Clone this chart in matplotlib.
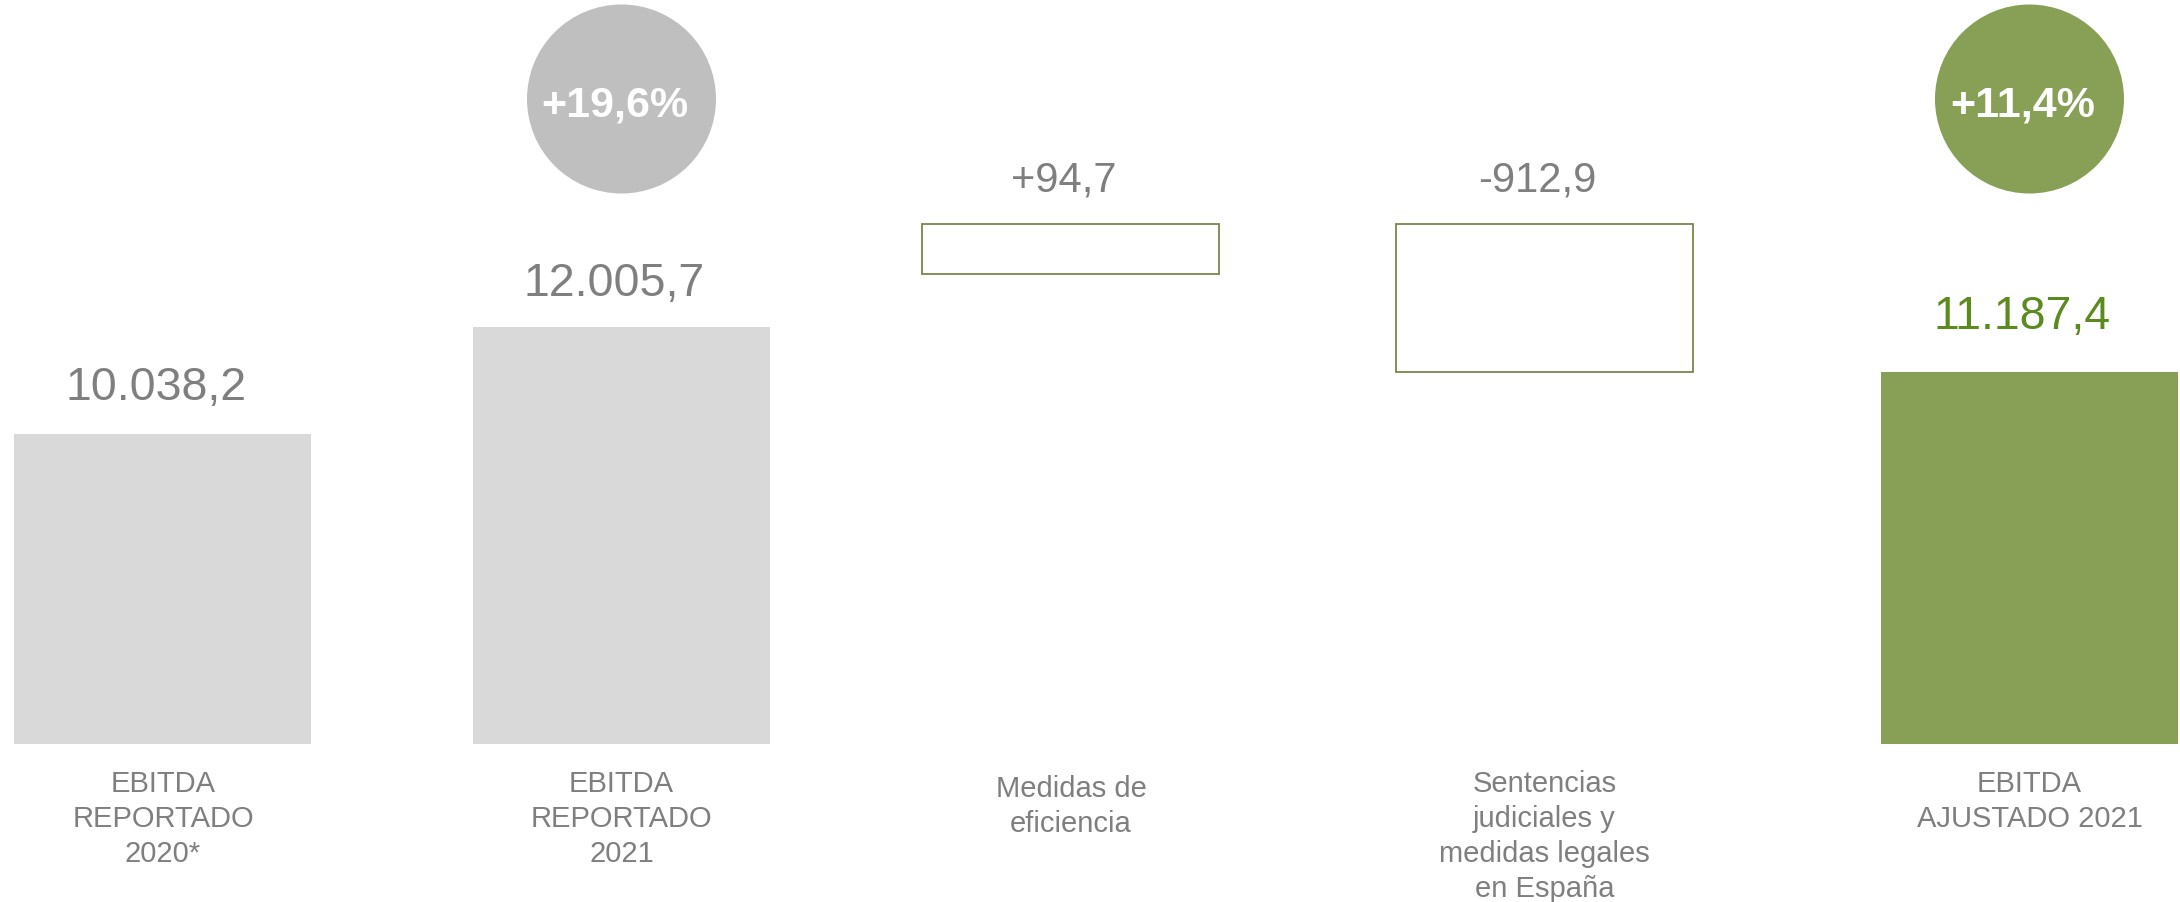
import matplotlib
matplotlib.use("Agg")
import matplotlib.pyplot as plt
from matplotlib.transforms import blended_transform_factory

plt.rcParams['font.family'] = ['Liberation Sans', 'DejaVu Sans']

# ---------------- data ----------------
categories = ["EBITDA\nREPORTADO\n2020*", "EBITDA\nREPORTADO\n2021",
              "Medidas de\neficiencia",
              "Sentencias\njudiciales y\nmedidas legales\nen España",
              "EBITDA\nAJUSTADO 2021"]
total_values = [10038.2, 12005.7, 11187.4]          # bars 1, 2, 5
total_labels = ["10.038,2", "12.005,7", "11.187,4"]
step_values = [94.7, -912.9]                         # bars 3, 4
step_labels = ["+94,7", "-912,9"]
# the step boxes are drawn schematically in the reference (not to scale);
# extents in value units
step_box_low = [12980.0, 11187.4]
step_box_high = [13900.0, 13900.0]
growth_labels = ["+19,6%", "+11,4%"]

# ---------------- layout ----------------
x_pos = [0.0, 0.9826, 1.9459, 2.9606, 4.0]
total_idx = [0, 1, 4]
step_idx = [2, 3]
growth_idx = [1, 4]
bar_w = 0.6365

GREY_BAR = "#D9D9D9"
GREY_CIRC = "#BFBFBF"
GREEN_BAR = "#87A055"
GREEN_TXT = "#5B8A1E"
BOX_EDGE = "#76884A"
TXT = "#7F7F7F"

W, H = 2180, 902
fig = plt.figure(figsize=(W / 100, H / 100), dpi=100)
ax = fig.add_axes([0, (H - 744) / H, 1, 744 / H])
ax.set_xlim(-0.3493, 4.3226)
ax.set_ylim(4337.9, 18018.6)
ax.axis("off")

# total bars
tot_x = [x_pos[i] for i in total_idx]
tot_colors = [GREY_BAR, GREY_BAR, GREEN_BAR]
ax.bar(tot_x, total_values, width=bar_w, color=tot_colors, bottom=0, zorder=2)

# step boxes
st_x = [x_pos[i] for i in step_idx]
heights = [h - l for h, l in zip(step_box_high, step_box_low)]
ax.bar(st_x, heights, width=bar_w, bottom=step_box_low, facecolor="white",
       edgecolor=BOX_EDGE, linewidth=1.3, zorder=2)

# value labels
tot_offsets = [34, 31, 43]
tot_txt_colors = [TXT, TXT, GREEN_TXT]
for x, v, lab, off, c in zip(tot_x, total_values, total_labels, tot_offsets, tot_txt_colors):
    ax.annotate(lab, xy=(x, v), xytext=(-7, off), textcoords="offset pixels",
                ha="center", va="baseline", fontsize=33.5, color=c)
for x, top, lab in zip(st_x, step_box_high, step_labels):
    ax.annotate(lab, xy=(x, top), xytext=(-7, 32), textcoords="offset pixels",
                ha="center", va="baseline", fontsize=30, color=TXT)

# growth circles
trans = blended_transform_factory(ax.transData, fig.transFigure)
g_x = [x_pos[i] for i in growth_idx]
circ_d_pt = 189 * 0.72
ax.scatter(g_x, [1 - 99 / H] * len(g_x), s=circ_d_pt ** 2, c=[GREY_CIRC, GREEN_BAR],
           transform=trans, linewidths=0, zorder=3, clip_on=False)
for x, lab in zip(g_x, growth_labels):
    ax.annotate(lab, xy=(x, 1 - 117 / H), xycoords=("data", "figure fraction"),
                xytext=(-7, 0), textcoords="offset pixels",
                ha="center", va="baseline", fontsize=31, fontweight="bold",
                color="white", zorder=4)

# category labels
cat_tops = [770, 770, 775, 770, 770]
for x, lab, t in zip(x_pos, categories, cat_tops):
    ax.annotate(lab, xy=(x, 1 - t / H), xycoords=("data", "figure fraction"),
                ha="center", va="top", fontsize=21, color=TXT,
                linespacing=1.32, multialignment="center", annotation_clip=False)

fig.savefig("out.png", dpi=100)
